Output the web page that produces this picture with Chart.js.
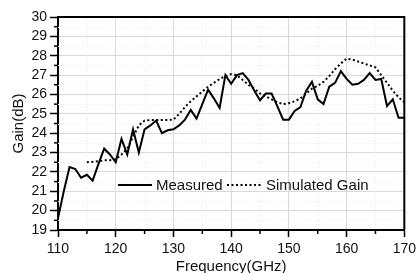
<!DOCTYPE html>
<html>
<head>
<meta charset="utf-8">
<script src="https://cdn.jsdelivr.net/npm/chart.js@4"></script>
<style>
  html, body { margin: 0; padding: 0; background: #fff; }
  canvas { display: block; }
</style>
</head>
<body>
<canvas id="gainChart" width="420" height="273"></canvas>
<script>
// Measured gain (GHz / dB)
const measuredFreq = [110,111,112,113,114,115,116,117,118,119,120,121,122,123,124,125,126,127,128,129,130,
  131,132,133,134,135,136,137,138,139,140,141,142,143,144,145,146,147,148,149,150,
  151,152,153,154,155,156,157,158,159,160,161,162,163,164,165,166,167,168,169,170];
const measuredGain = [19.6,21.0,22.25,22.15,21.7,21.85,21.55,22.4,23.2,22.9,22.5,23.7,22.9,24.2,23.0,24.2,24.4,24.65,24.0,24.15,24.2,
  24.4,24.7,25.2,24.75,25.5,26.25,25.8,25.3,27.0,26.55,27.0,27.1,26.75,26.2,25.7,26.05,26.05,25.4,24.7,24.7,
  25.15,25.35,26.2,26.65,25.75,25.5,26.4,26.6,27.2,26.8,26.5,26.55,26.75,27.1,26.75,26.8,25.4,25.75,24.8,24.8];

// Simulated gain (dotted)
const simFreq = [115,116,117,118,119,120,121,122,123,124,125,126,127,128,129,130,
  131,132,133,134,135,136,137,138,139,140,141,142,143,144,145,146,147,148,149,150,
  151,152,153,154,155,156,157,158,159,160,161,162,163,164,165,166,167,168,169,170];
const simGain = [22.5,22.52,22.55,22.6,22.6,22.65,22.9,23.2,23.8,24.4,24.65,24.68,24.68,24.68,24.68,24.7,
  25.0,25.35,25.65,25.9,26.15,26.4,26.6,26.8,26.95,27.05,27.0,26.75,26.5,26.3,26.05,25.9,25.75,25.6,25.5,25.55,
  25.65,25.8,26.05,26.3,26.45,26.65,26.95,27.3,27.6,27.85,27.8,27.7,27.6,27.5,27.4,27.0,26.6,26.2,25.85,25.6];

const xTicks = [110, 120, 130, 140, 150, 160, 170];
const yTicks = [19, 20, 21, 22, 23, 24, 25, 26, 27, 28, 29, 30];
const xMinorTicks = [115, 125, 135, 145, 155, 165];
const yMinorTicks = [19.5,20.5,21.5,22.5,23.5,24.5,25.5,26.5,27.5,28.5,29.5];

const legendLabels = ['Measured', 'Simulated Gain'];
const xTitle = 'Frequency(GHz)';
const yTitle = 'Gain(dB)';

const FONT = '"Liberation Sans", Arial, sans-serif';

function toPoints(xs, ys) {
  return xs.map((x, i) => ({ x: x, y: ys[i] }));
}

// frame, minor ticks, minor grid, legend and axis titles
const decorPlugin = {
  id: 'decor',
  beforeDatasetsDraw(chart) {
    const { ctx, chartArea: a, scales: { x, y } } = chart;
    ctx.save();
    ctx.strokeStyle = '#ebebeb';
    ctx.lineWidth = 1;
    ctx.setLineDash([1, 2]);
    xMinorTicks.forEach(v => {
      const px = Math.round(x.getPixelForValue(v)) + 0.5;
      ctx.beginPath(); ctx.moveTo(px, a.top); ctx.lineTo(px, a.bottom); ctx.stroke();
    });
    yMinorTicks.forEach(v => {
      const py = Math.round(y.getPixelForValue(v)) + 0.5;
      ctx.beginPath(); ctx.moveTo(a.left, py); ctx.lineTo(a.right, py); ctx.stroke();
    });
    ctx.restore();
  },
  afterDraw(chart) {
    const { ctx, chartArea: a, scales: { x, y } } = chart;
    ctx.save();
    // top and right of the frame
    ctx.strokeStyle = '#000';
    ctx.lineWidth = 2;
    ctx.beginPath();
    ctx.moveTo(a.left, a.top); ctx.lineTo(a.right, a.top); ctx.lineTo(a.right, a.bottom);
    ctx.stroke();

    // minor ticks
    ctx.lineWidth = 1.5;
    xMinorTicks.forEach(v => {
      const px = x.getPixelForValue(v);
      ctx.beginPath(); ctx.moveTo(px, a.bottom); ctx.lineTo(px, a.bottom + 4); ctx.stroke();
    });
    yMinorTicks.forEach(v => {
      const py = y.getPixelForValue(v);
      ctx.beginPath(); ctx.moveTo(a.left, py); ctx.lineTo(a.left - 4, py); ctx.stroke();
    });

    // legend
    const ly = 185;
    ctx.lineWidth = 2;
    ctx.beginPath(); ctx.moveTo(118, ly); ctx.lineTo(152, ly); ctx.stroke();
    ctx.setLineDash([2, 2.5]);
    ctx.beginPath(); ctx.moveTo(227, ly); ctx.lineTo(263, ly); ctx.stroke();
    ctx.setLineDash([]);
    ctx.fillStyle = '#111';
    ctx.font = '15px ' + FONT;
    ctx.textBaseline = 'alphabetic';
    ctx.textAlign = 'left';
    ctx.fillText(legendLabels[0], 156, 190);
    ctx.fillText(legendLabels[1], 266, 190);

    // axis titles
    ctx.textAlign = 'center';
    ctx.fillText(xTitle, (a.left + a.right) / 2, 271);
    ctx.translate(23, (a.top + a.bottom) / 2);
    ctx.rotate(-Math.PI / 2);
    ctx.fillText(yTitle, 0, 0);
    ctx.restore();
  }
};

new Chart(document.getElementById('gainChart'), {
  type: 'line',
  data: {
    datasets: [
      {
        label: legendLabels[0],
        data: toPoints(measuredFreq, measuredGain),
        borderColor: '#000',
        borderWidth: 2,
        pointRadius: 0,
        tension: 0,
        fill: false
      },
      {
        label: legendLabels[1],
        data: toPoints(simFreq, simGain),
        borderColor: '#000',
        borderWidth: 2,
        borderDash: [2, 2.5],
        pointRadius: 0,
        tension: 0,
        fill: false
      }
    ]
  },
  options: {
    responsive: false,
    animation: false,
    layout: { padding: { top: 17, right: 12, left: 0, bottom: 0 } },
    plugins: {
      legend: { display: false },
      tooltip: { enabled: false }
    },
    scales: {
      x: {
        type: 'linear',
        min: 110,
        max: 170,
        afterFit: s => { s.height = 43; },
        afterBuildTicks: s => { s.ticks = xTicks.map(v => ({ value: v })); },
        ticks: { color: '#111', padding: 4, autoSkip: false, font: { size: 14, family: FONT }, maxRotation: 0 },
        grid: { color: '#d9d9d9', lineWidth: 1, tickColor: '#000', tickWidth: 1.5, tickLength: 7 },
        border: { color: '#000', width: 2 }
      },
      y: {
        min: 19,
        max: 30,
        afterFit: s => { s.width = 58; },
        afterBuildTicks: s => { s.ticks = yTicks.map(v => ({ value: v })); },
        ticks: { color: '#111', padding: 3, autoSkip: false, font: { size: 14, family: FONT } },
        grid: { color: '#d9d9d9', lineWidth: 1, tickColor: '#000', tickWidth: 1.5, tickLength: 8 },
        border: { color: '#000', width: 2 }
      }
    }
  },
  plugins: [decorPlugin]
});
</script>
</body>
</html>
